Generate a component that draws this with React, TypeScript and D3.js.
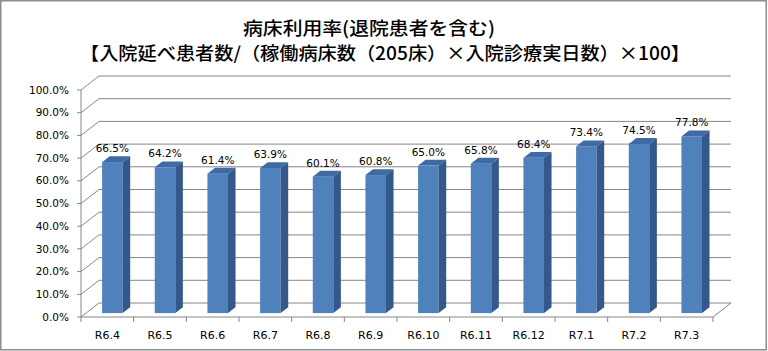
import * as d3 from "d3";

const categories = ["R6.4", "R6.5", "R6.6", "R6.7", "R6.8", "R6.9", "R6.10", "R6.11", "R6.12", "R7.1", "R7.2", "R7.3"];
const values = [66.5, 64.2, 61.4, 63.9, 60.1, 60.8, 65.0, 65.8, 68.4, 73.4, 74.5, 77.8];
const yTicks = [0, 10, 20, 30, 40, 50, 60, 70, 80, 90, 100];
const titleLine1 = "病床利用率(退院患者を含む)";
const titleLine2 = "【入院延べ患者数/（稼働病床数（205床）×入院診療実日数）×100】";

const width = 768;
const height = 351;
const left = 81;
const right = 713;
const bottom = 317;
const top = 90;
// depth of the 3-D floor
const DX = 18;
const DY = 14;
const f0 = 0.28;
const f1 = 0.7;

const grid = "#868686";
const font = "'DejaVu Sans', Verdana, sans-serif";
const jpFont = "'Noto Sans CJK JP', sans-serif";

export default function App() {
  const x = d3.scaleBand().domain(categories).range([left, right]).padding(0);
  const y = d3.scaleLinear().domain([0, 100]).range([bottom, top]);
  const fmt = d3.format(".1f");
  const bw = x.bandwidth();
  const barW = bw * 0.39;
  const ddx = (f1 - f0) * DX;
  const ddy = (f1 - f0) * DY;

  return (
    <svg width={width} height={height} style={{ position: "absolute", left: 0, top: 0, background: "#fff" }}>
      <rect x={0.75} y={0.75} width={width - 2.5} height={height - 2} fill="#fff" stroke="#8c8c8c" strokeWidth={1.5} />

      <text x={369} y={35} textAnchor="middle" fontFamily={jpFont} fontSize={18} fontWeight={500} textLength={252} lengthAdjust="spacingAndGlyphs">
        {titleLine1}
      </text>
      <text x={385} y={60} textAnchor="middle" fontFamily={jpFont} fontSize={18} fontWeight={500} textLength={610} lengthAdjust="spacingAndGlyphs">
        {titleLine2}
      </text>

      {/* walls: gridlines */}
      {yTicks.map((t) => (
        <g key={t} stroke={grid} strokeWidth={1} fill="none">
          <line x1={left} y1={y(t)} x2={left + DX} y2={y(t) - DY} />
          <line x1={left + DX} y1={y(t) - DY} x2={right + DX} y2={y(t) - DY} />
        </g>
      ))}
      {/* floor and axes */}
      <g stroke={grid} strokeWidth={1} fill="none">
        <line x1={left} y1={bottom} x2={right} y2={bottom} />
        <line x1={right} y1={bottom} x2={right + DX} y2={bottom - DY} />
        <line x1={left} y1={top} x2={left} y2={bottom} />
        {yTicks.map((t) => (
          <line key={t} x1={left - 4} y1={y(t)} x2={left} y2={y(t)} />
        ))}
        {[...categories.map((c) => x(c) as number), right].map((v, i) => (
          <line key={i} x1={v} y1={bottom} x2={v} y2={bottom + 5} />
        ))}
      </g>

      {yTicks.map((t) => (
        <text key={t} x={left - 12} y={y(t)} dy="0.35em" textAnchor="end" fontFamily={font} fontSize={10.5} fill="#000">
          {fmt(t)}%
        </text>
      ))}

      {categories.map((c) => (
        <text key={c} x={(x(c) as number) + bw / 2} y={335} dy="0.35em" textAnchor="middle" fontFamily={font} fontSize={11} fill="#000">
          {c}
        </text>
      ))}

      {categories.map((c, i) => {
        const v = values[i];
        const xl = (x(c) as number) + bw / 2 - barW / 2 + f0 * DX;
        const xr = xl + barW;
        const yt = y(v) - f0 * DY;
        const yb = y(0) - f0 * DY;
        return (
          <g key={c}>
            <rect x={xl} y={yt} width={barW} height={yb - yt} fill="#4f81bd" />
            <polygon points={`${xl},${yt} ${xr},${yt} ${xr + ddx},${yt - ddy} ${xl + ddx},${yt - ddy}`} fill="#3e6aa6" />
            <polygon points={`${xr},${yt} ${xr + ddx},${yt - ddy} ${xr + ddx},${yb - ddy} ${xr},${yb}`} fill="#34588a" />
            <text x={(xl + xr) / 2} y={yt - 10} textAnchor="middle" fontFamily={font} fontSize={10.5} fill="#000">
              {fmt(v)}%
            </text>
          </g>
        );
      })}
    </svg>
  );
}
